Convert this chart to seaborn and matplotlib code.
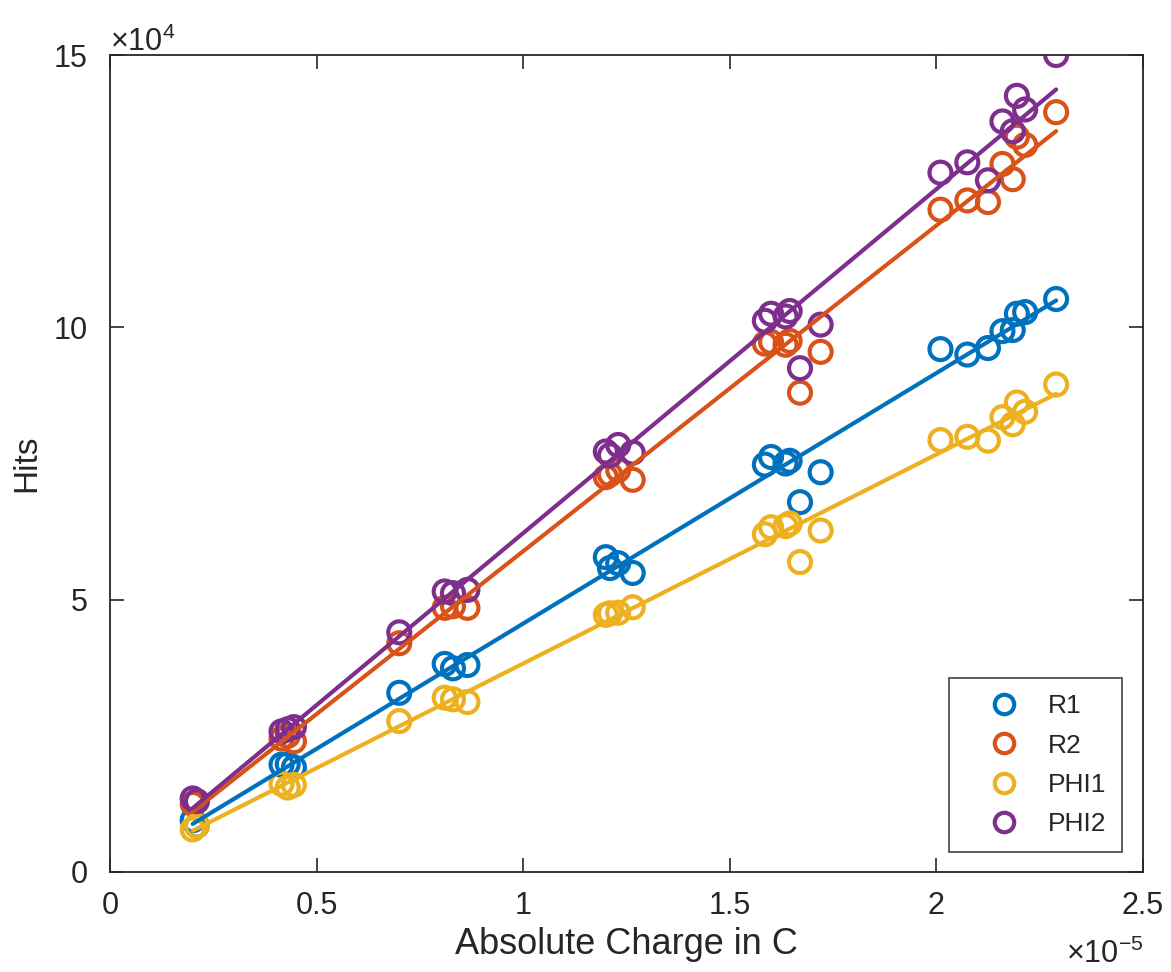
import numpy as np
import pandas as pd
import matplotlib
matplotlib.use("Agg")
import matplotlib.pyplot as plt
from matplotlib.ticker import ScalarFormatter
from matplotlib.lines import Line2D
import seaborn as sns

# Absolute charge (x 1e-5 C)
charge = [0.20, 0.21, 0.415, 0.43, 0.445, 0.70, 0.81, 0.83, 0.865,
          1.20, 1.21, 1.23, 1.265, 1.585, 1.60, 1.635, 1.645, 1.67, 1.72,
          2.01, 2.075, 2.125, 2.16, 2.185, 2.195, 2.215, 2.29]
# Hits (x 1e4)
r1 = [0.95, 0.85, 1.97, 1.98, 1.92, 3.29, 3.82, 3.74, 3.80,
      5.78, 5.58, 5.67, 5.49, 7.48, 7.62, 7.50, 7.55, 6.79, 7.34,
      9.60, 9.50, 9.62, 9.93, 9.95, 10.25, 10.28, 10.52]
r2 = [1.25, 1.30, 2.45, 2.50, 2.40, 4.20, 4.85, 4.88, 4.85,
      7.25, 7.30, 7.38, 7.20, 9.70, 9.73, 9.68, 9.75, 8.80, 9.55,
      12.16, 12.33, 12.30, 13.00, 12.72, 13.50, 13.35, 13.95]
phi1 = [0.78, 0.85, 1.62, 1.55, 1.60, 2.77, 3.20, 3.17, 3.12,
        4.72, 4.75, 4.76, 4.86, 6.20, 6.33, 6.35, 6.40, 5.69, 6.27,
        7.93, 7.99, 7.92, 8.35, 8.22, 8.62, 8.45, 8.95]
phi2 = [1.35, 1.30, 2.58, 2.62, 2.66, 4.40, 5.15, 5.12, 5.18,
        7.72, 7.65, 7.84, 7.70, 10.12, 10.25, 10.20, 10.30, 9.25, 10.05,
        12.84, 13.03, 12.70, 13.78, 13.60, 14.25, 14.00, 15.00]

series_names = ["R1", "R2", "PHI1", "PHI2"]
series_vals = [r1, r2, phi1, phi2]
colors = ["#0072BD", "#D95319", "#EDB120", "#7E2F8E"]

sns.set_style("white")
plt.rcParams["font.family"] = ["Liberation Sans", "DejaVu Sans"]
plt.rcParams["mathtext.fontset"] = "custom"
plt.rcParams["mathtext.rm"] = "Liberation Sans"
plt.rcParams["mathtext.it"] = "Liberation Sans"
plt.rcParams["mathtext.sf"] = "Liberation Sans"

text_color = "#262626"


class GFormatter(ScalarFormatter):
    def _set_format(self):
        self.format = "%g"


fig = plt.figure(figsize=(11.71, 9.72), dpi=100)
ax = fig.add_axes([0.094, 0.1029, 0.882, 0.8405])

x = np.array(charge) * 1e-5
for name, vals, c in zip(series_names, series_vals, colors):
    y = np.array(vals) * 1e4
    sns.regplot(x=x, y=y, ax=ax, ci=None, truncate=True, marker="o", color=c,
                scatter_kws=dict(s=250, facecolors="none", edgecolors=c, linewidths=3.0,
                                 alpha=1.0, zorder=2),
                line_kws=dict(lw=3.0, zorder=3))

ax.set_xlim(0, 2.5e-5)
ax.set_ylim(0, 15e4)
ax.set_xticks(np.arange(0, 2.51e-5, 0.5e-5))
ax.set_yticks(np.arange(0, 15.1e4, 5e4))

fx = GFormatter(useMathText=True)
fx.set_powerlimits((-5, -5))
ax.xaxis.set_major_formatter(fx)
fy = GFormatter(useMathText=True)
fy.set_powerlimits((4, 4))
ax.yaxis.set_major_formatter(fy)

ax.tick_params(direction="in", length=10, width=1.2, top=True, right=True,
               bottom=True, left=True, labelsize=22, colors=text_color)
ax.tick_params(axis="x", pad=14)
ax.tick_params(axis="y", pad=16)
ax.yaxis.get_offset_text().set_fontsize(22)
ax.yaxis.get_offset_text().set_color(text_color)
# x offset text drawn below the axis label, as in the reference
ax.xaxis.get_offset_text().set_visible(False)
fig.text(1143 / 1171, 0.002, r"$\times10^{-5}$", ha="right", va="bottom",
         fontsize=22, color=text_color)

for sp in ax.spines.values():
    sp.set_visible(True)
    sp.set_color(text_color)
    sp.set_linewidth(1.3)

ax.set_xlabel("Absolute Charge in C", fontsize=26, color=text_color, labelpad=4)
ax.set_ylabel("Hits", fontsize=24, color=text_color)
ax.yaxis.set_label_coords(-0.066, 0.5)

handles = [Line2D([], [], linestyle="none", marker="o", markersize=14,
                  markerfacecolor="none", markeredgecolor=c, markeredgewidth=3.0)
           for c in colors]
leg = ax.legend(handles, series_names, loc="lower right", fontsize=19,
                frameon=True, fancybox=False, edgecolor=text_color,
                borderpad=0.6, handletextpad=0.15, labelspacing=0.58,
                borderaxespad=0, bbox_to_anchor=(0.9797, 0.0245), handlelength=3.0)
leg.get_frame().set_linewidth(1.3)
for t in leg.get_texts():
    t.set_color(text_color)

fig.savefig("out.png", dpi=100, facecolor="white")
